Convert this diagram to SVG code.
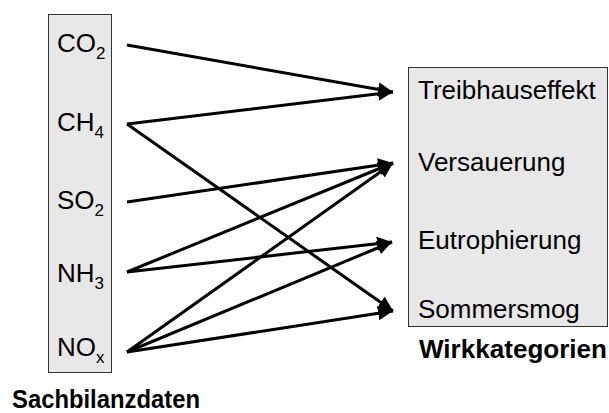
<svg xmlns="http://www.w3.org/2000/svg" width="609" height="413" viewBox="0 0 609 413">
  <style>
    .box { fill: #e8e8e8; stroke: #333333; stroke-width: 1; }
    .lbl { font-family: "Liberation Sans", Arial, sans-serif; font-size: 26px; fill: #000000; }
    .sub { font-size: 17px; }
    .head { font-family: "Liberation Sans", Arial, sans-serif; font-size: 25px; font-weight: bold; fill: #000000; }
    .edge { stroke: #000000; stroke-width: 3; fill: none; marker-end: url(#arrow); }
  </style>
  <defs>
    <marker id="arrow" viewBox="0 0 15 14" refX="15" refY="7" markerUnits="userSpaceOnUse" markerWidth="15" markerHeight="14" orient="auto">
      <path d="M0,0 L15,7 L0,14 z" fill="#000000"/>
    </marker>
  </defs>
  <rect width="609" height="413" fill="#ffffff"/>

  <!-- inventory data -->
  <g id="sachbilanz">
    <rect class="box" x="48.5" y="14.5" width="63" height="358"/>
    <text class="head" x="12" y="408" textLength="188" lengthAdjust="spacingAndGlyphs">Sachbilanzdaten</text>
  </g>
  <g id="co2"><text class="lbl" x="57" y="52">CO<tspan class="sub" dy="7">2</tspan></text></g>
  <g id="ch4"><text class="lbl" x="57" y="131">CH<tspan class="sub" dy="7">4</tspan></text></g>
  <g id="so2"><text class="lbl" x="57" y="209">SO<tspan class="sub" dy="7">2</tspan></text></g>
  <g id="nh3"><text class="lbl" x="57" y="282">NH<tspan class="sub" dy="7">3</tspan></text></g>
  <g id="nox"><text class="lbl" x="57" y="356">NO<tspan class="sub" dy="7">x</tspan></text></g>

  <!-- impact categories -->
  <g id="wirkkategorien">
    <rect class="box" x="408.5" y="67.5" width="199" height="259"/>
    <text class="head" x="419" y="358" textLength="188" lengthAdjust="spacingAndGlyphs">Wirkkategorien</text>
  </g>
  <g id="treibhauseffekt"><text class="lbl" x="418" y="99">Treibhauseffekt</text></g>
  <g id="versauerung"><text class="lbl" x="418" y="171">Versauerung</text></g>
  <g id="eutrophierung"><text class="lbl" x="418" y="249">Eutrophierung</text></g>
  <g id="sommersmog"><text class="lbl" x="418" y="318">Sommersmog</text></g>

  <!-- connectors -->
  <g id="connectors">
    <line class="edge" x1="127" y1="45" x2="393" y2="92"/>
    <line class="edge" x1="127" y1="124" x2="393" y2="92"/>
    <line class="edge" x1="127" y1="124" x2="393" y2="311"/>
    <line class="edge" x1="127" y1="202" x2="393" y2="163"/>
    <line class="edge" x1="127" y1="272" x2="393" y2="163"/>
    <line class="edge" x1="127" y1="272" x2="392" y2="242"/>
    <line class="edge" x1="127" y1="352" x2="393" y2="163"/>
    <line class="edge" x1="127" y1="352" x2="392" y2="242"/>
    <line class="edge" x1="127" y1="352" x2="393" y2="311"/>
  </g>
</svg>
